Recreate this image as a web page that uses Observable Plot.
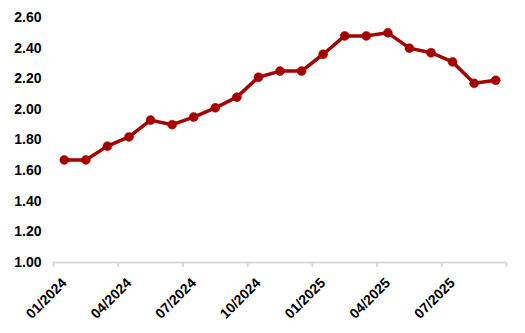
<!DOCTYPE html>
<html>
<head>
<meta charset="utf-8">
<script src="https://cdn.jsdelivr.net/npm/d3@7"></script>
<script src="https://cdn.jsdelivr.net/npm/@observablehq/plot@0.6"></script>
<style>
  html, body { margin: 0; padding: 0; background: #fff; }
  #chart svg { display: block; }
</style>
</head>
<body>
<div id="chart"></div>
<script>
const months = ["01/2024","02/2024","03/2024","04/2024","05/2024","06/2024","07/2024","08/2024","09/2024","10/2024","11/2024","12/2024",
                "01/2025","02/2025","03/2025","04/2025","05/2025","06/2025","07/2025","08/2025","09/2025"];
const values = [1.67, 1.67, 1.76, 1.82, 1.93, 1.90, 1.95, 2.01, 2.08, 2.21, 2.25, 2.25,
                2.36, 2.48, 2.48, 2.50, 2.40, 2.37, 2.31, 2.17, 2.19];
const yTicks = [1.0, 1.2, 1.4, 1.6, 1.8, 2.0, 2.2, 2.4, 2.6];
const labelEvery = 3;

const data = months.map((m, i) => ({i, month: m, value: values[i]}));
const labelData = data.filter(d => d.i % labelEvery === 0);
const boundaries = Array.from(new Set(d3.range(-0.5, months.length, labelEvery).concat([months.length - 0.5])));

const font = "'Liberation Sans', Arial, sans-serif";
const red = "#A50000";

const chart = Plot.plot({
  width: 525,
  height: 333,
  marginLeft: 53,
  marginRight: 19,
  marginTop: 17,
  marginBottom: 71,
  style: {fontFamily: font, background: "#fff"},
  x: {type: "linear", domain: [-0.5, months.length - 0.5], axis: null},
  y: {domain: [1.0, 2.6], axis: null},
  marks: [
    Plot.axisY({ticks: yTicks, tickFormat: d3.format(".2f"), tickSize: 0, tickPadding: 12,
                fontSize: 14, fontWeight: "bold", fill: "#000", label: null}),
    Plot.axisX({ticks: boundaries, tickFormat: () => "", tickSize: 5, stroke: "#d9d9d9", strokeWidth: 2, label: null}),
    Plot.ruleY([1.0], {stroke: "#d9d9d9", strokeWidth: 2}),
    Plot.text(labelData, {x: "i", y: () => 1.0, text: "month", rotate: -45, textAnchor: "end",
                          fontSize: 14, fontWeight: "bold", fill: "#000", dx: 0, dy: 18}),
    Plot.line(data, {x: "i", y: "value", stroke: red, strokeWidth: 3.5}),
    Plot.dot(data, {x: "i", y: "value", r: 4.5, fill: red, stroke: red, strokeWidth: 0.5})
  ]
});
document.getElementById("chart").appendChild(chart);
</script>
</body>
</html>
